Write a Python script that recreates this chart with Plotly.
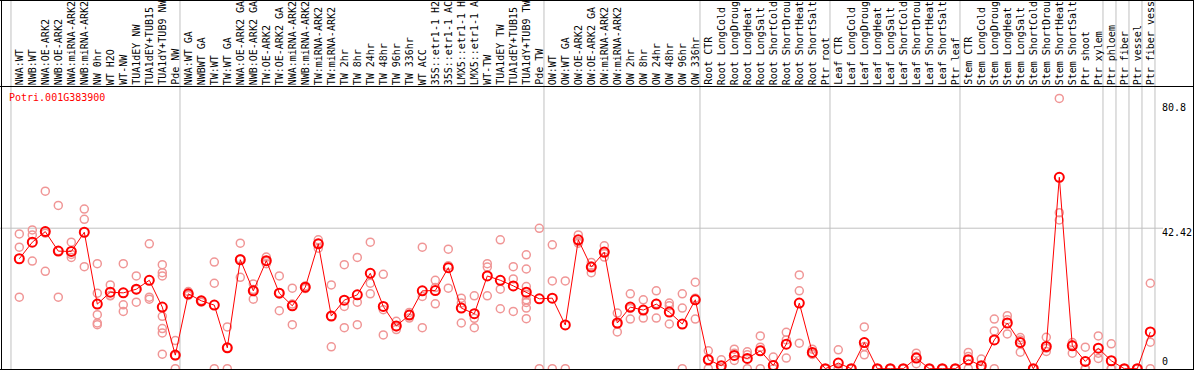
import plotly.graph_objects as go

# ---------------- data ----------------
gene_id = "Potri.001G383900"

categories = [
    "NWA:WT", "NWB:WT", "NWA:OE-ARK2", "NWB:OE-ARK2", "NWA:miRNA-ARK2", "NWB:miRNA-ARK2",
    "NW 0hr", "WT H2O", "WT-NW", "TUA1dEY NW", "TUA1dEY+TUB15", "TUA1dY+TUB9 NW", "Pde NW",
    "NWA:WT GA", "NWBWT GA", "TW:WT", "TW:WT GA", "NWA:OE-ARK2 GA", "NWB:OE-ARK2 GA",
    "TW:OE-ARK2", "TW:OE-ARK2 GA", "NWA:miRNA-ARK2", "NWB:miRNA-ARK2", "TW:miRNA-ARK2",
    "TW:miRNA-ARK2", "TW 2hr", "TW 8hr", "TW 24hr", "TW 48hr", "TW 96hr", "TW 336hr",
    "WT ACC", "35S::etr1-1 H2", "35S::etr1-1 AC", "LMX5::etr1-1 H", "LMX5::etr1-1 A",
    "WT-TW", "TUA1dEY TW", "TUA1dEY+TUB15", "TUA1dY+TUB9 TW", "Pde TW",
    "OW:WT", "OW:WT GA", "OW:OE-ARK2", "OW:OE-ARK2 GA", "OW:miRNA-ARK2", "OW:miRNA-ARK2",
    "OW 2hr", "OW 8hr", "OW 24hr", "OW 48hr", "OW 96hr", "OW 336hr",
    "Root CTR", "Root LongCold", "Root LongDroug", "Root LongHeat", "Root LongSalt",
    "Root ShortCold", "Root ShortDrou", "Root ShortHeat", "Root ShortSalt", "Ptr root",
    "Leaf CTR", "Leaf LongCold", "Leaf LongDroug", "Leaf LongHeat", "Leaf LongSalt",
    "Leaf ShortCold", "Leaf ShortDrou", "Leaf ShortHeat", "Leaf ShortSalt", "Ptr leaf",
    "Stem CTR", "Stem LongCold", "Stem LongDroug", "Stem LongHeat", "Stem LongSalt",
    "Stem ShortCold", "Stem ShortDrou", "Stem ShortHeat", "Stem ShortSalt", "Ptr shoot",
    "Ptr xylem", "Ptr phloem", "Ptr fiber", "Ptr vessel", "Ptr fiber vess",
]

means = [
    33.2, 38.2, 41.4, 35.5, 35.4, 41.2, 19.5, 23.1, 22.9, 24.0, 26.7, 18.6, 4.1,
    22.6, 20.5, 19.2, 6.3, 32.9, 23.5, 32.6, 22.8, 19.0, 24.6, 37.7, 15.9, 20.7,
    22.3, 28.8, 18.8, 12.9, 16.2, 23.5, 23.6, 30.5, 18.3, 16.6, 28.0, 26.7, 25.0,
    23.1, 21.1,
    21.3, 13.2, 38.9, 30.7, 35.2, 13.8, 18.6, 17.7, 19.5, 17.1, 13.5, 20.8,
    2.7, 0.9, 4.0, 3.1, 5.4, 1.0, 7.4, 19.8, 4.9, 0.0,
    1.7, 0.0, 7.9, 0.0, 0.0, 0.0, 3.2, 0.0, 0.0, 0.0,
    2.7, 0.9, 8.7, 13.8, 7.9, 0.0, 6.7, 57.8, 6.9, 2.2,
    6.2, 2.4, 0.0, 0.0, 11.1,
]

replicates = [
    [40.7, 36.7, 21.6], [41.9, 40.4, 32.5], [53.6, 40.9, 29.4], [49.3, 35.6, 21.6],
    [38.2, 34.5, 33.6], [48.2, 45.1, 30.8], [31.7, 22.8, 16.3, 13.8, 13.3],
    [25.3, 22.1, 22.0], [31.7, 19.3, 17.3], [28.0, 23.9, 20.1], [37.7, 21.6, 21.0],
    [31.4, 29.0, 28.0, 15.8, 12.1, 10.8, 4.4], [8.5, 3.9, 0.0],
    [23.3, 22.4, 22.1], [20.6, 20.5, 20.1], [32.2, 25.8, 0.0], [12.6, 6.3, 0.0],
    [37.9, 33.2, 27.6], [25.6, 23.9, 21.0], [33.7, 32.4, 31.7], [28.0, 22.9, 17.5],
    [24.3, 19.5, 13.3], [25.0, 24.6, 24.2], [38.9, 37.8, 36.4], [25.3, 15.8, 6.6],
    [31.4, 18.8, 12.4], [33.6, 20.1, 13.3], [38.2, 25.8, 22.6], [28.5, 17.8, 10.2],
    [14.3, 12.6, 11.8], [17.0, 16.3, 15.3], [36.7, 21.8, 12.4], [26.7, 24.5, 19.6],
    [36.1, 31.1, 24.3], [21.3, 19.8, 13.8], [22.0, 15.2, 12.4], [31.7, 30.7, 22.0],
    [38.9, 24.0, 18.1], [30.8, 27.1, 17.3],
    [34.4, 30.1, 24.8, 22.3, 20.8, 20.0, 18.3, 15.1], [42.4, 0.0],
    [37.4, 26.5, 0.0], [26.5, 0.0], [40.4, 38.4, 37.9], [32.1, 31.0, 29.0],
    [37.1, 34.8, 33.7], [16.8, 13.5, 11.1], [22.6, 18.2, 15.0], [20.8, 17.8, 15.3],
    [23.5, 19.7, 15.3], [19.8, 19.0, 13.5], [22.6, 18.3, 0.0], [26.1, 21.3, 15.0],
    [5.4, 2.7, 0.0], [2.7, 0.0, 0.0], [5.9, 4.7, 2.5], [5.1, 4.2, 0.0], [9.9, 6.5, 0.0],
    [3.5, 0.0, 0.0], [11.0, 8.7, 3.2], [28.3, 23.5, 7.7], [5.9, 4.5, 4.3], [0.0, 0.0, 0.0],
    [5.7, 0.0, 0.0], [0.0, 0.0, 0.0], [12.6, 6.7, 4.2], [0.0, 0.0, 0.0], [0.0, 0.0, 0.0],
    [0.0, 0.0, 0.0], [4.7, 3.7, 1.5], [0.0, 0.0, 0.0], [0.0, 0.0, 0.0], [0.0, 0.0, 0.0],
    [4.9, 3.7, 0.0], [2.9, 0.0, 0.0], [15.0, 11.4, 0.0], [16.0, 14.8, 10.5],
    [9.4, 8.7, 5.0], [0.0, 0.0, 0.0], [9.5, 6.2, 5.2], [81.6, 47.1, 44.9],
    [7.9, 7.2, 4.7], [6.5, 0.0, 0.0],
    [9.9, 4.7, 3.1], [7.5, 0.0, 0.0], [0.0, 0.0, 0.0], [0.0, 0.0, 0.0], [25.8, 8.0, 0.0],
]

# group separators (gridline placed after these category indices)
group_breaks = [-1, 12, 40, 52, 62, 72, 83, 84, 85, 86, 87]

y_tick_values = [80.8, 42.42, 0]
y_tick_labels = ["80.8", "42.42", "0"]
y_grid_value = 42.42

# ---------------- geometry / style ----------------
W, H = 1194, 370
X0_PX, STEP_PX = 19.3, 13.0          # pixel of first category, spacing
Y0_PX, PX_PER_UNIT = 368.7, 3.312    # pixel of zero, scale
FONT = "DejaVu Sans Mono"
PINK = "rgb(240,150,150)"
RED = "#ff0000"
GRID = "#c0c0c0"

x_range = [-X0_PX / STEP_PX, (W - X0_PX) / STEP_PX]
y_range = [-(H - Y0_PX) / PX_PER_UNIT, Y0_PX / PX_PER_UNIT]

rep_x, rep_y = [], []
for i, vals in enumerate(replicates):
    for v in vals:
        rep_x.append(i)
        rep_y.append(v)

fig = go.Figure()
fig.add_trace(go.Scatter(
    x=rep_x, y=rep_y, mode="markers",
    marker=dict(symbol="circle-open", size=8, color=PINK, line=dict(width=1.5, color=PINK)),
    hoverinfo="skip", showlegend=False,
))
fig.add_trace(go.Scatter(
    x=list(range(len(categories))), y=means, mode="lines+markers",
    line=dict(color=RED, width=1),
    marker=dict(symbol="circle-open", size=9, color=RED, line=dict(width=2, color=RED)),
    showlegend=False,
))

shapes = []
for b in group_breaks:
    shapes.append(dict(type="line", xref="x", yref="paper", x0=b + 0.36, x1=b + 0.36,
                       y0=0, y1=1, line=dict(color=GRID, width=1), layer="below"))
shapes.append(dict(type="line", xref="paper", yref="y", x0=0, x1=1163 / W,
                   y0=y_grid_value, y1=y_grid_value, line=dict(color=GRID, width=1), layer="below"))


def px_line(x0, y0, x1, y1):
    return dict(type="line", xref="paper", yref="paper",
                x0=x0 / W, x1=x1 / W, y0=1 - y0 / H, y1=1 - y1 / H,
                line=dict(color="black", width=1), layer="above")


shapes += [
    px_line(0, 0.5, W, 0.5),
    px_line(1.5, 0, 1.5, H),
    px_line(1193.5, 0, 1193.5, H),
    px_line(0, 369.5, W, 369.5),
    px_line(0, 86.5, W, 86.5),
]

annotations = []
for i, lab in enumerate(categories):
    annotations.append(dict(
        x=i, y=1 - 86 / H, xref="x", yref="paper", text=lab, showarrow=False,
        textangle=-90, xanchor="center", yanchor="bottom",
        font=dict(family=FONT, size=10, color="black"), borderpad=0,
    ))

annotations.append(dict(
    x=7 / W, y=1 - 97 / H, xref="paper", yref="paper", text=gene_id, showarrow=False,
    xanchor="left", yanchor="middle", font=dict(family=FONT, size=10, color=RED),
))

tick_shift = {"80.8": -6, "42.42": -4.5, "0": 7}
for v, t in zip(y_tick_values, y_tick_labels):
    annotations.append(dict(
        x=1160 / W, y=v, xref="paper", yref="y", text=t, showarrow=False,
        xanchor="left", yanchor="middle", yshift=tick_shift[t],
        font=dict(family=FONT, size=10, color="black"),
    ))

fig.update_layout(
    width=W, height=H,
    margin=dict(l=0, r=0, t=0, b=0),
    paper_bgcolor="white", plot_bgcolor="white",
    xaxis=dict(range=x_range, visible=False, showgrid=False, zeroline=False),
    yaxis=dict(range=y_range, visible=False, showgrid=False, zeroline=False),
    shapes=shapes, annotations=annotations,
    showlegend=False,
)

fig.write_html(
    "out.html",
    config={"displayModeBar": False, "staticPlot": True},
    post_script="document.body.style.margin='0px';",
)
